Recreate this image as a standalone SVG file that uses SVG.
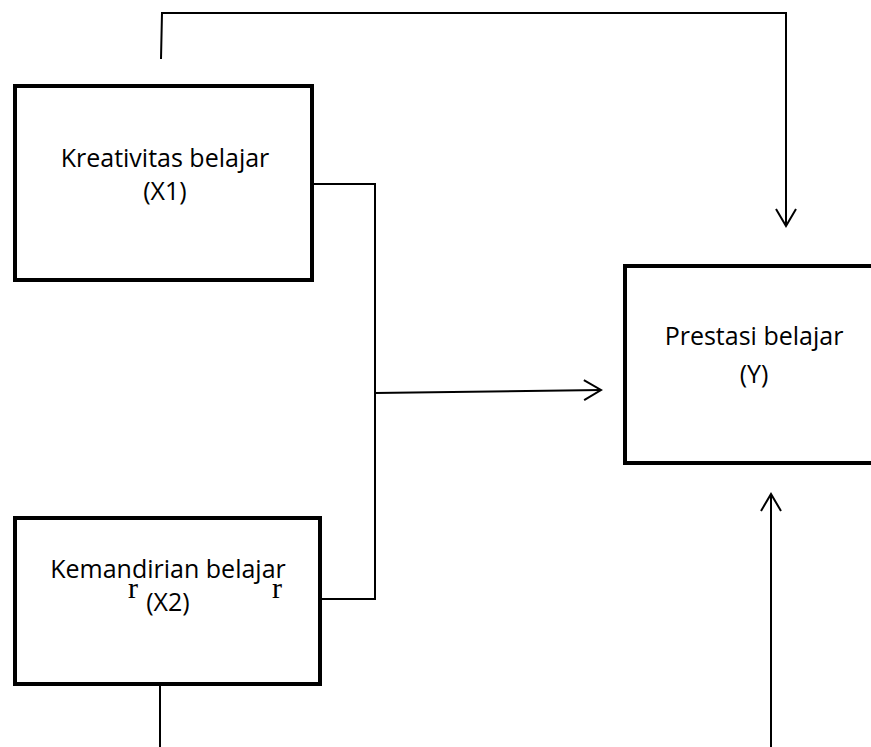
<svg xmlns="http://www.w3.org/2000/svg" width="871" height="747" viewBox="0 0 871 747">
<style>
.box{fill:#fff;stroke:#000;stroke-width:4}
.t{font-family:"Open Sans","Noto Sans",sans-serif;font-size:25px;fill:#000;text-anchor:middle}
.r{font-family:"Liberation Serif",serif;font-size:30px;fill:#000}
.c{fill:none;stroke:#000;stroke-width:2}
</style>
<defs>
<marker id="a" markerWidth="22" markerHeight="24" refX="18" refY="11" orient="auto" markerUnits="userSpaceOnUse">
<path d="M1,1 L18,11 L1,21" fill="none" stroke="#000" stroke-width="2"/>
</marker>
</defs>
<g id="connectors">
<path class="c" d="M161,59 L162,13 H786 V226" marker-end="url(#a)"/>
<path class="c" d="M312,184 H375 V599 H320"/>
<path class="c" d="M375,393 L601,390" marker-end="url(#a)"/>
<path class="c" d="M160,684 V747"/>
<path class="c" d="M771,747 V494" marker-end="url(#a)"/>
</g>
<g id="x1">
<rect class="box" x="15" y="86" width="297" height="194"/>
<text class="t" x="165" y="167">Kreativitas belajar</text>
<text class="t" x="165" y="200">(X1)</text>
</g>
<g id="x2">
<rect class="box" x="15" y="518" width="305" height="166"/>
<text class="t" x="168" y="578">Kemandirian belajar</text>
<text class="t" x="168" y="611">(X2)</text>
<text class="r" x="128" y="598">r</text>
<text class="r" x="272" y="598">r</text>
</g>
<g id="y">
<rect class="box" x="625" y="266" width="260" height="197"/>
<text class="t" x="754" y="345">Prestasi belajar</text>
<text class="t" x="754" y="383">(Y)</text>
</g>
</svg>
